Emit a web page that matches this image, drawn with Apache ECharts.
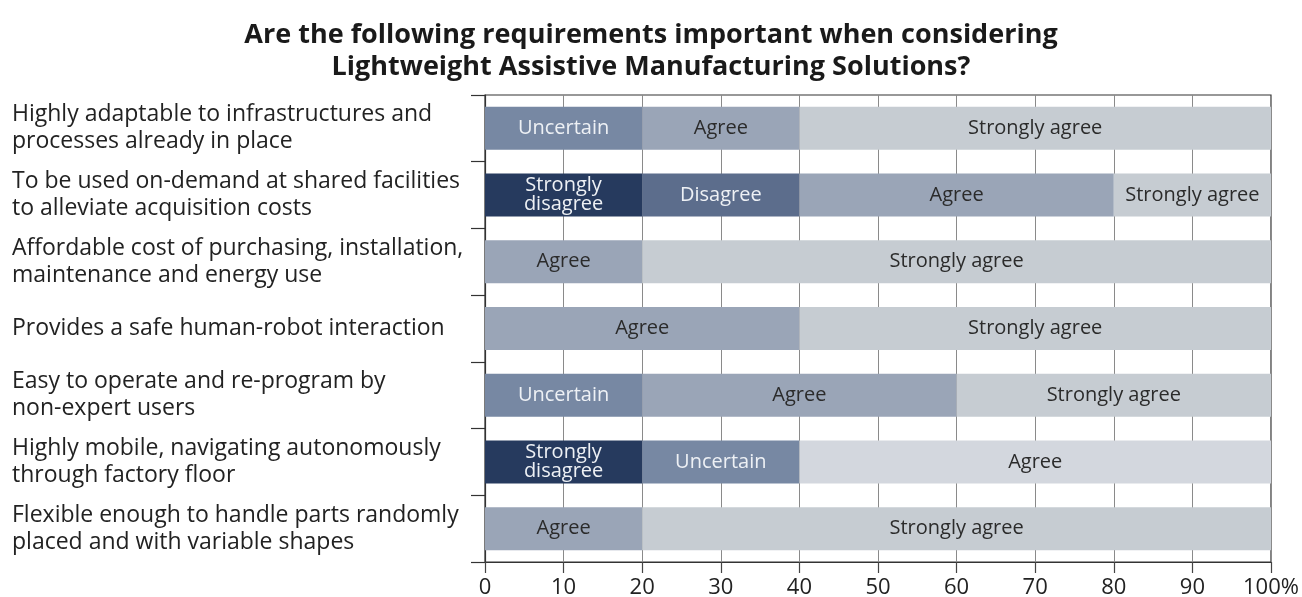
<!DOCTYPE html>
<html>
<head>
<meta charset="utf-8">
<script src="https://cdn.jsdelivr.net/npm/echarts@6/dist/echarts.min.js"></script>
<style>
html,body{margin:0;padding:0;background:#ffffff;}
#chart{width:1302px;height:597px;}
</style>
</head>
<body>
<div id="chart"></div>
<script>
const titleText = "Are the following requirements important when considering\nLightweight Assistive Manufacturing Solutions?";
const categories = [
  "Highly adaptable to infrastructures and\nprocesses already in place",
  "To be used on-demand at shared facilities\nto alleviate acquisition costs",
  "Affordable cost of purchasing, installation,\nmaintenance and energy use",
  "Provides a safe human-robot interaction",
  "Easy to operate and re-program by\nnon-expert users",
  "Highly mobile, navigating autonomously\nthrough factory floor",
  "Flexible enough to handle parts randomly\nplaced and with variable shapes"
];
const seriesNames = ["Strongly disagree", "Disagree", "Uncertain", "Agree", "Strongly agree"];
const stronglyDisagree = [0, 20, 0, 0, 0, 20, 0];
const disagree         = [0, 20, 0, 0, 0, 0, 0];
const uncertain        = [20, 0, 0, 0, 20, 20, 0];
const agree            = [20, 40, 20, 40, 40, 60, 20];
const stronglyAgree    = [60, 20, 80, 60, 40, 0, 80];
const xTicks = [0, 10, 20, 30, 40, 50, 60, 70, 80, 90, 100];

const values = [stronglyDisagree, disagree, uncertain, agree, stronglyAgree];
const colors = ["#263a5e", "#5c6d8c", "#7788a3", "#9aa5b7", "#c6ccd2"];
const labelColors = ["#eef1f5", "#eef1f5", "#eef1f5", "#2b2b2b", "#2b2b2b"];
const lastSegColor = "#d3d7de";

const series = seriesNames.map((name, si) => ({
  name: name,
  type: 'bar',
  stack: 'total',
  barWidth: 43,
  itemStyle: { color: colors[si] },
  label: {
    show: true,
    position: 'inside',
    color: labelColors[si],
    fontFamily: 'Open Sans',
    fontSize: 20,
    lineHeight: 19,
    formatter: () => name === "Strongly disagree" ? "Strongly\ndisagree" : name
  },
  data: values[si].map((v, ci) => {
    if (v === 0) return '-';
    const isLast = values.slice(si + 1).every(arr => arr[ci] === 0);
    if (isLast && si < 4) return { value: v, itemStyle: { color: lastSegColor } };
    return v;
  })
}));

const chart = echarts.init(document.getElementById('chart'), null, { renderer: 'canvas' });
chart.setOption({
  backgroundColor: '#ffffff',
  animation: false,
  title: {
    text: titleText,
    left: 'center',
    top: 14,
    textStyle: { fontFamily: 'Open Sans', fontWeight: 'bold', fontSize: 27, lineHeight: 32, color: '#1a1a1a' }
  },
  grid: { left: 485, right: 31, top: 95, bottom: 35, outerBoundsMode: 'none', containLabel: false, show: true, borderColor: '#333', borderWidth: 1.2, backgroundColor: 'transparent' },
  xAxis: {
    type: 'value',
    min: 0, max: 100, interval: 10,
    axisLine: { show: true, lineStyle: { color: '#333', width: 1.2 } },
    axisTick: { show: true, length: 11, lineStyle: { color: '#444', width: 1.2 } },
    splitLine: { show: true, lineStyle: { color: '#8a8a8a', width: 1 } },
    axisLabel: {
      margin: 15,
      fontFamily: 'Open Sans', fontSize: 22, color: '#222',
      formatter: v => (xTicks.indexOf(v) >= 0 ? (v === 100 ? '100%' : String(v)) : '')
    }
  },
  yAxis: {
    type: 'category',
    data: categories,
    inverse: true,
    axisLine: { show: true, lineStyle: { color: '#333', width: 1.2 } },
    axisTick: { show: true, length: 14, lineStyle: { color: '#333', width: 1.2 } },
    axisLabel: {
      align: 'left',
      margin: 473,
      fontFamily: 'Open Sans', fontSize: 23, lineHeight: 27, color: '#222'
    }
  },
  series: series
});
</script>
</body>
</html>
